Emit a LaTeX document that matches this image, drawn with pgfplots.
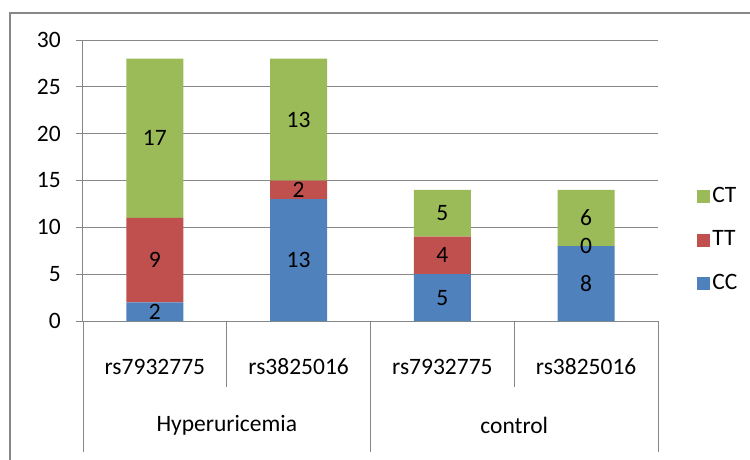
\documentclass[border=0pt]{standalone}
\usepackage{fontspec}
\setmainfont{Carlito}
\usepackage{pgfplots}
\pgfplotsset{compat=1.18}
\usepackage{pgfplotstable}
\definecolor{cc}{HTML}{4F81BD}
\definecolor{tt}{HTML}{C0504D}
\definecolor{ct}{HTML}{9BBB59}
\definecolor{gridc}{HTML}{878787}
\pgfplotstableread{
x cc tt ct
0 2 9 17
1 13 2 13
2 5 4 5
3 8 0 6
}\datatable
\begin{document}
\fontsize{23.5}{28}\selectfont
\begin{tikzpicture}[x=1pt,y=1pt]
\useasboundingbox (0,0) rectangle (750,459);
\draw[gridc, line width=1.5pt] (10,-20) -- (10,446) -- (780,446);
\begin{axis}[
  at={(83pt,138pt)}, anchor=south west,
  scale only axis, width=575pt, height=281pt,
  ybar stacked, bar width=57pt,
  xmin=-0.5, xmax=3.5, ymin=0, ymax=30,
  ytick={0,5,...,30},
  xtick={0,1,2,3},
  xticklabels={rs7932775,rs3825016,rs7932775,rs3825016},
  xticklabel style={anchor=center, yshift=-39pt, inner sep=0pt},
  yticklabel style={inner sep=0pt, xshift=-15pt},
  /pgf/number format/assume math mode=true,
  axis lines*=left,
  axis line style={gridc, line width=1pt},
  ymajorgrids, major grid style={gridc, line width=1pt},
  tick align=outside, major tick length=7pt,
  xtick style={draw=none},
  ytick style={gridc, line width=1pt},
  clip=false,
  reverse legend,
  legend cell align=left,
  legend style={draw=none, fill=none, at={(1.068,0.288)}, anchor=west, inner sep=0pt, row sep=21pt},
  every axis plot post/.append style={legend image code/.code={\fill[##1] (0pt,-6.5pt) rectangle (13pt,6.5pt);}},
  nodes near coords={\pgfmathprintnumber[fixed,precision=0]{\myval}},
  visualization depends on={rawy \as \myval},
  every node near coord/.append style={anchor=center, text=black},
]
\addplot[fill=cc, draw=none] table[x=x, y=cc] {\datatable};
\addlegendentry{CC}
\addplot[fill=tt, draw=none] table[x=x, y=tt] {\datatable};
\addlegendentry{TT}
\addplot[fill=ct, draw=none] table[x=x, y=ct] {\datatable};
\addlegendentry{CT}
\coordinate (zerolab) at (axis cs:3,8);
\end{axis}
\node[anchor=center, text=black] at (zerolab) {0};
\draw[gridc, line width=1pt] (83,138) -- (83,7);
\draw[gridc, line width=1pt] (370.5,138) -- (370.5,7);
\draw[gridc, line width=1pt] (658,138) -- (658,7);
\draw[gridc, line width=1pt] (226.75,138) -- (226.75,72);
\draw[gridc, line width=1pt] (514.25,138) -- (514.25,72);
\node at (226.75,34) {Hyperuricemia};
\node at (514.25,34) {control};
\end{tikzpicture}
\end{document}
